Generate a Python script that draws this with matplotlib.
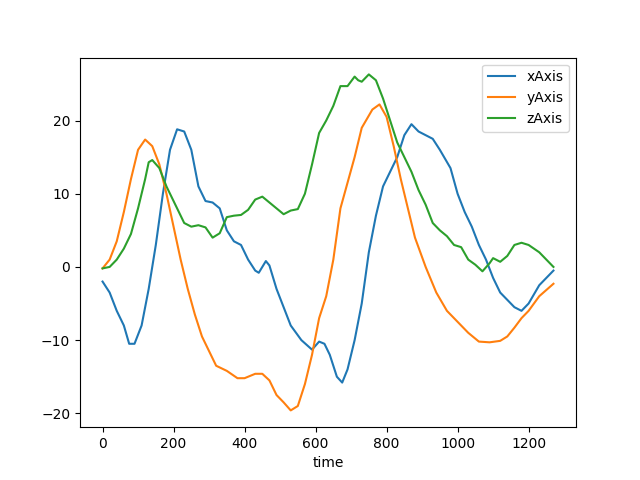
import matplotlib
matplotlib.use('Agg')
import matplotlib.pyplot as plt

# x axis series
x_t = [0, 20, 40, 60, 75, 90, 110, 130, 150, 170, 190, 210, 230, 250, 270, 290, 310, 330, 350, 370,
       390, 410, 430, 440, 460, 470, 490, 510, 530, 560, 590, 610, 625, 640, 660, 675, 690, 710, 730,
       750, 770, 790, 810, 830, 850, 870, 890, 910, 930, 950, 980, 1000, 1020, 1040, 1060, 1080, 1100,
       1120, 1140, 1160, 1180, 1200, 1230, 1270]
x_val = [-2, -3.5, -6, -8, -10.5, -10.5, -8, -3, 3, 10, 16, 18.8, 18.5, 16, 11, 9, 8.8, 8, 5, 3.5,
         3, 1, -0.5, -0.8, 0.8, 0.2, -3, -5.5, -8, -10, -11.3, -10.2, -10.5, -12, -15, -15.8, -14, -10, -5,
         2, 7, 11, 13, 15, 18, 19.5, 18.5, 18, 17.5, 16, 13.5, 10, 7.5, 5.5, 3, 1, -1.5,
         -3.5, -4.5, -5.5, -6, -5, -2.5, -0.5]

# y axis series
y_t = [0, 20, 40, 60, 80, 100, 120, 140, 160, 180, 200, 220, 240, 260, 280, 300, 320, 350, 380, 400,
       430, 450, 470, 490, 510, 530, 550, 570, 590, 610, 630, 650, 670, 690, 710, 730, 760, 780, 800,
       820, 840, 860, 880, 910, 940, 970, 1000, 1030, 1060, 1090, 1120, 1140, 1160, 1180, 1200, 1230, 1270]
y_val = [-0.2, 1, 3.5, 7.5, 12, 16, 17.4, 16.5, 14, 10, 5.5, 1, -3, -6.5, -9.5, -11.5, -13.5, -14.2, -15.2, -15.2,
         -14.6, -14.6, -15.5, -17.5, -18.5, -19.6, -19, -16, -12, -7, -4, 1, 8, 11.5, 15, 19, 21.5, 22.2, 20.5,
         16.5, 12, 8, 4, 0, -3.5, -6, -7.5, -9, -10.2, -10.3, -10.1, -9.5, -8.3, -7, -6, -4, -2.3]

# z axis series
z_t = [0, 20, 40, 60, 80, 100, 120, 130, 140, 160, 180, 200, 220, 230, 250, 270, 290, 310, 330, 350,
       370, 390, 410, 430, 450, 470, 490, 510, 530, 550, 570, 590, 610, 630, 650, 670, 690, 710, 720,
       730, 750, 770, 790, 810, 830, 850, 870, 890, 910, 930, 950, 970, 990, 1010, 1030, 1050, 1070,
       1090, 1100, 1120, 1140, 1160, 1180, 1200, 1230, 1260, 1270]
z_val = [-0.2, 0, 1, 2.5, 4.5, 8, 12, 14.3, 14.6, 13.5, 11, 9, 7, 6, 5.5, 5.7, 5.4, 4, 4.6, 6.8,
         7, 7.1, 7.8, 9.2, 9.6, 8.8, 8, 7.2, 7.7, 7.9, 10, 14, 18.3, 20, 22, 24.7, 24.7, 26, 25.5,
         25.3, 26.3, 25.5, 23, 20, 17, 15, 13, 10.5, 8.5, 6, 5, 4.2, 3, 2.7, 1, 0.3, -0.6,
         0.5, 1.2, 0.7, 1.5, 3, 3.3, 3, 2, 0.5, 0]

fig, ax = plt.subplots(figsize=(6.4, 4.8), dpi=100)
ax.plot(x_t, x_val, label='xAxis')
ax.plot(y_t, y_val, label='yAxis')
ax.plot(z_t, z_val, label='zAxis')
ax.set_xlabel('time')
ax.legend(loc='upper right')
fig.savefig('out.png')
